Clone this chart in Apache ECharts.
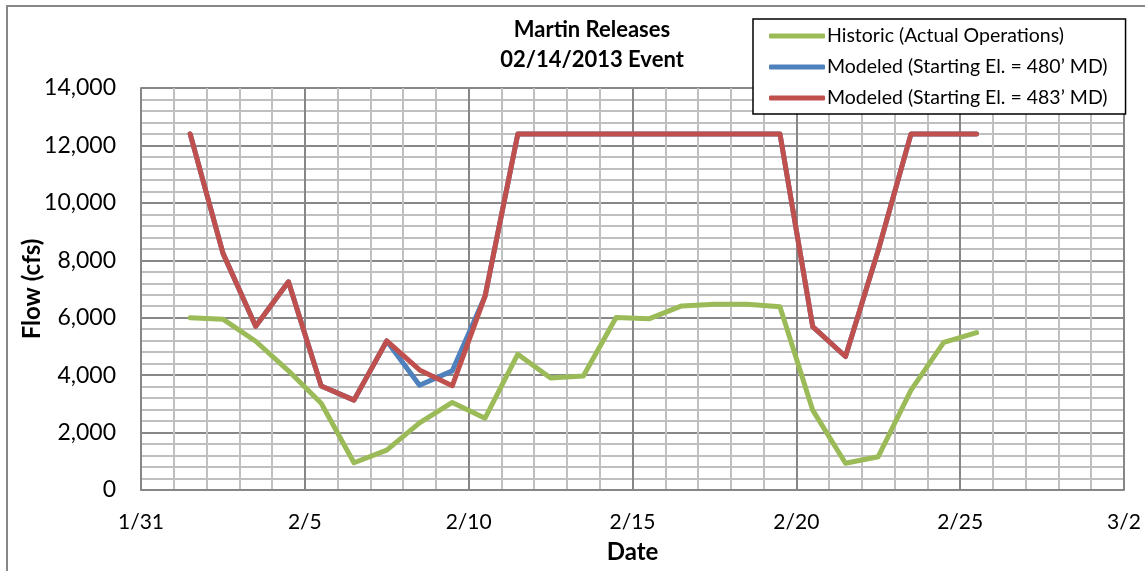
<!DOCTYPE html>
<html>
<head>
<meta charset="utf-8">
<script src="https://cdn.jsdelivr.net/npm/echarts@6/dist/echarts.min.js"></script>
<style>
  html, body { margin: 0; padding: 0; background: #fff; }
  #chart { width: 1145px; height: 571px; }
</style>
</head>
<body>
<div id="chart"></div>
<script>
// Daily release values (cfs), reported at noon of each day
const dates = [
  '2013-02-01', '2013-02-02', '2013-02-03', '2013-02-04', '2013-02-05',
  '2013-02-06', '2013-02-07', '2013-02-08', '2013-02-09', '2013-02-10',
  '2013-02-11', '2013-02-12', '2013-02-13', '2013-02-14', '2013-02-15',
  '2013-02-16', '2013-02-17', '2013-02-18', '2013-02-19', '2013-02-20',
  '2013-02-21', '2013-02-22', '2013-02-23', '2013-02-24', '2013-02-25'
];
const historic = [
  6000, 5950, 5180, 4150, 3020, 950, 1390, 2340, 3050, 2500,
  4730, 3900, 3970, 6010, 5960, 6410, 6470, 6470, 6380, 2780,
  930, 1160, 3480, 5140, 5480
];
const modeled480 = [
  12400, 8250, 5700, 7250, 3620, 3130, 5190, 3650, 4150, 6750,
  12400, 12400, 12400, 12400, 12400, 12400, 12400, 12400, 12400, 5690,
  4650, 8350, 12400, 12400, 12400
];
const modeled483 = [
  12400, 8250, 5700, 7250, 3620, 3130, 5190, 4180, 3630, 6750,
  12400, 12400, 12400, 12400, 12400, 12400, 12400, 12400, 12400, 5690,
  4650, 8350, 12400, 12400, 12400
];
const xTickLabels = ['1/31', '2/5', '2/10', '2/15', '2/20', '2/25', '3/2'];
const seriesNames = [
  'Historic (Actual Operations)',
  'Modeled (Starting El. = 480\u2019 MD)',
  'Modeled (Starting El. = 483\u2019 MD)'
];

// x position: days elapsed since 1/31 00:00
const origin = Date.parse('2013-01-31T00:00:00Z');
const dayOffset = d => (Date.parse(d + 'T12:00:00Z') - origin) / 86400000;
const pairs = vals => vals.map((v, i) => [dayOffset(dates[i]), v]);

const FONT = 'Lato';
const MAJOR = '#878787';
const MINOR = '#c0c0c0';

const chart = echarts.init(document.getElementById('chart'));

const lineSeries = (name, vals, color) => ({
  name: name,
  type: 'line',
  data: pairs(vals),
  showSymbol: false,
  symbol: 'none',
  lineStyle: { color: color, width: 5, cap: 'round', join: 'round' },
  itemStyle: { color: color },
  animation: false
});

chart.setOption({
  backgroundColor: '#fff',
  textStyle: { fontFamily: FONT },
  title: {
    text: 'Martin Releases\n02/14/2013 Event',
    left: 587,
    top: 10,
    textAlign: 'center',
    textStyle: {
      fontFamily: FONT, fontWeight: 'bold', fontSize: 22,
      lineHeight: 30, color: '#000'
    }
  },
  legend: {
    orient: 'vertical',
    left: 753,
    top: 19,
    padding: [6, 18, 5, 16],
    itemGap: 9,
    itemWidth: 56,
    itemHeight: 5,
    icon: 'roundRect',
    selectedMode: false,
    backgroundColor: '#fff',
    borderColor: '#000',
    borderWidth: 1.5,
    borderRadius: 0,
    textStyle: {
      fontFamily: FONT, fontSize: 19.5, lineHeight: 22, color: '#000',
      padding: [0, 0, 0, -3]
    },
    data: seriesNames
  },
  graphic: [{
    type: 'rect',
    shape: { x: 7, y: 6, width: 1200, height: 620 },
    style: { fill: 'none', stroke: MAJOR, lineWidth: 2 },
    silent: true,
    z: -1
  }],
  grid: { left: 141, top: 88, right: 21, bottom: 81 },
  xAxis: {
    type: 'value',
    min: 0,
    max: 30,
    interval: 5,
    name: 'Date',
    nameLocation: 'middle',
    nameGap: 50,
    nameTextStyle: { fontFamily: FONT, fontWeight: 'bold', fontSize: 24, color: '#000' },
    axisLine: { show: true, lineStyle: { color: MAJOR, width: 2 } },
    axisTick: { show: false },
    axisLabel: {
      margin: 22,
      fontFamily: FONT, fontSize: 21, color: '#000',
      formatter: v => xTickLabels[Math.round(v / 5)]
    },
    splitLine: { show: true, lineStyle: { color: MAJOR, width: 2 } },
    minorTick: { show: false, splitNumber: 5 },
    minorSplitLine: { show: true, lineStyle: { color: MINOR, width: 2 } }
  },
  yAxis: {
    type: 'value',
    min: 0,
    max: 14000,
    interval: 2000,
    name: 'Flow (cfs)',
    nameLocation: 'middle',
    nameGap: 97,
    nameMoveOverlap: false,
    nameTextStyle: { fontFamily: FONT, fontWeight: 'bold', fontSize: 24, color: '#000' },
    axisLine: { show: true, lineStyle: { color: MAJOR, width: 2 } },
    axisTick: { show: false },
    axisLabel: {
      margin: 25,
      fontFamily: FONT, fontSize: 23, color: '#000',
      formatter: v => v.toLocaleString('en-US')
    },
    splitLine: { show: true, lineStyle: { color: MAJOR, width: 2 } },
    minorTick: { show: false, splitNumber: 5 },
    minorSplitLine: { show: true, lineStyle: { color: MINOR, width: 2 } }
  },
  series: [
    lineSeries(seriesNames[0], historic, '#9bbb59'),
    lineSeries(seriesNames[1], modeled480, '#4f81bd'),
    lineSeries(seriesNames[2], modeled483, '#c0504d')
  ]
});
</script>
</body>
</html>
